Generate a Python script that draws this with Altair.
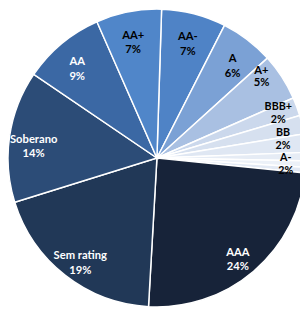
import math
import altair as alt
import pandas as pd

categories = ["AA-", "A", "A+", "BBB+", "BB", "A-", "BBB", "BB+", "Outros",
              "AAA", "Sem rating", "Soberano", "AA", "AA+"]
values = [7.0, 5.8, 5.1, 2.0, 2.0, 2.0, 0.9, 0.7, 0.6, 24.3, 19.3, 14.3, 8.9, 7.1]
labels = ["AA-\n7%", "A\n6%", "A+\n5%", "BBB+\n2%", "BB\n2%", "A-\n2%", "", "", "",
          "AAA\n24%", "Sem rating\n19%", "Soberano\n14%", "AA\n9%", "AA+\n7%"]
colors = ["#4f83c6", "#7ba1d5", "#a9c0e2", "#cbd8ec", "#d6e0ef", "#dfe7f3",
          "#e6ecf5", "#ecf1f8", "#e2e9f4",
          "#172339", "#213857", "#2c4c77", "#3b68a4", "#5086c9"]
white_text = ["AAA", "Sem rating", "Soberano", "AA"]

# labels that Excel pushed aside: (category, radius, dx, dy, line height, font size)
moved = [("A+", 128, 0, -20, 13, 11.5),
         ("BBB+", 136, -3, -5, 13, 11),
         ("BB", 136, -3, 5, 13, 11),
         ("A-", 136, -3, 14, 13, 11)]
moved_cats = [m[0] for m in moved]

df = pd.DataFrame({
    "cat": categories,
    "val": values,
    "label": labels,
    "ord": list(range(len(categories))),
})

a0 = math.radians(1.8)
theta_scale = alt.Scale(range=[a0, a0 + 2 * math.pi])

base = alt.Chart(df).encode(
    theta=alt.Theta("val:Q", stack=True, scale=theta_scale),
    order=alt.Order("ord:Q", sort="ascending"),
    x=alt.value(153),
    y=alt.value(150),
)

arcs = base.mark_arc(outerRadius=153, stroke="white", strokeWidth=1.5).encode(
    color=alt.Color("cat:N", scale=alt.Scale(domain=categories, range=colors), legend=None)
)

big_text = base.mark_text(radius=128, font="Lato", fontSize=11.5, fontWeight="bold",
                          lineBreak="\n", lineHeight=15, align="center",
                          baseline="middle").encode(
    text=alt.condition(
        alt.FieldOneOfPredicate(field="cat", oneOf=moved_cats),
        alt.value(""), alt.Text("label:N")
    ),
    color=alt.condition(
        alt.FieldOneOfPredicate(field="cat", oneOf=white_text),
        alt.value("white"), alt.value("black")
    ),
)

small_layers = []
for c, r, ddx, ddy, lh, fs in moved:
    small_layers.append(
        base.mark_text(radius=r, dx=ddx, dy=ddy, lineBreak="\n", lineHeight=lh,
                       font="Lato", fontSize=fs, fontWeight="bold",
                       align="center", baseline="middle", color="black").encode(
            text=alt.condition(
                alt.FieldEqualPredicate(field="cat", equal=c),
                alt.Text("label:N"), alt.value("")
            )
        )
    )

chart = alt.layer(arcs, big_text, *small_layers).properties(
    width=300, height=301, padding=0, autosize="none"
).configure_view(stroke=None)

chart.save("out.html", embed_options={"renderer": "svg", "actions": False})
